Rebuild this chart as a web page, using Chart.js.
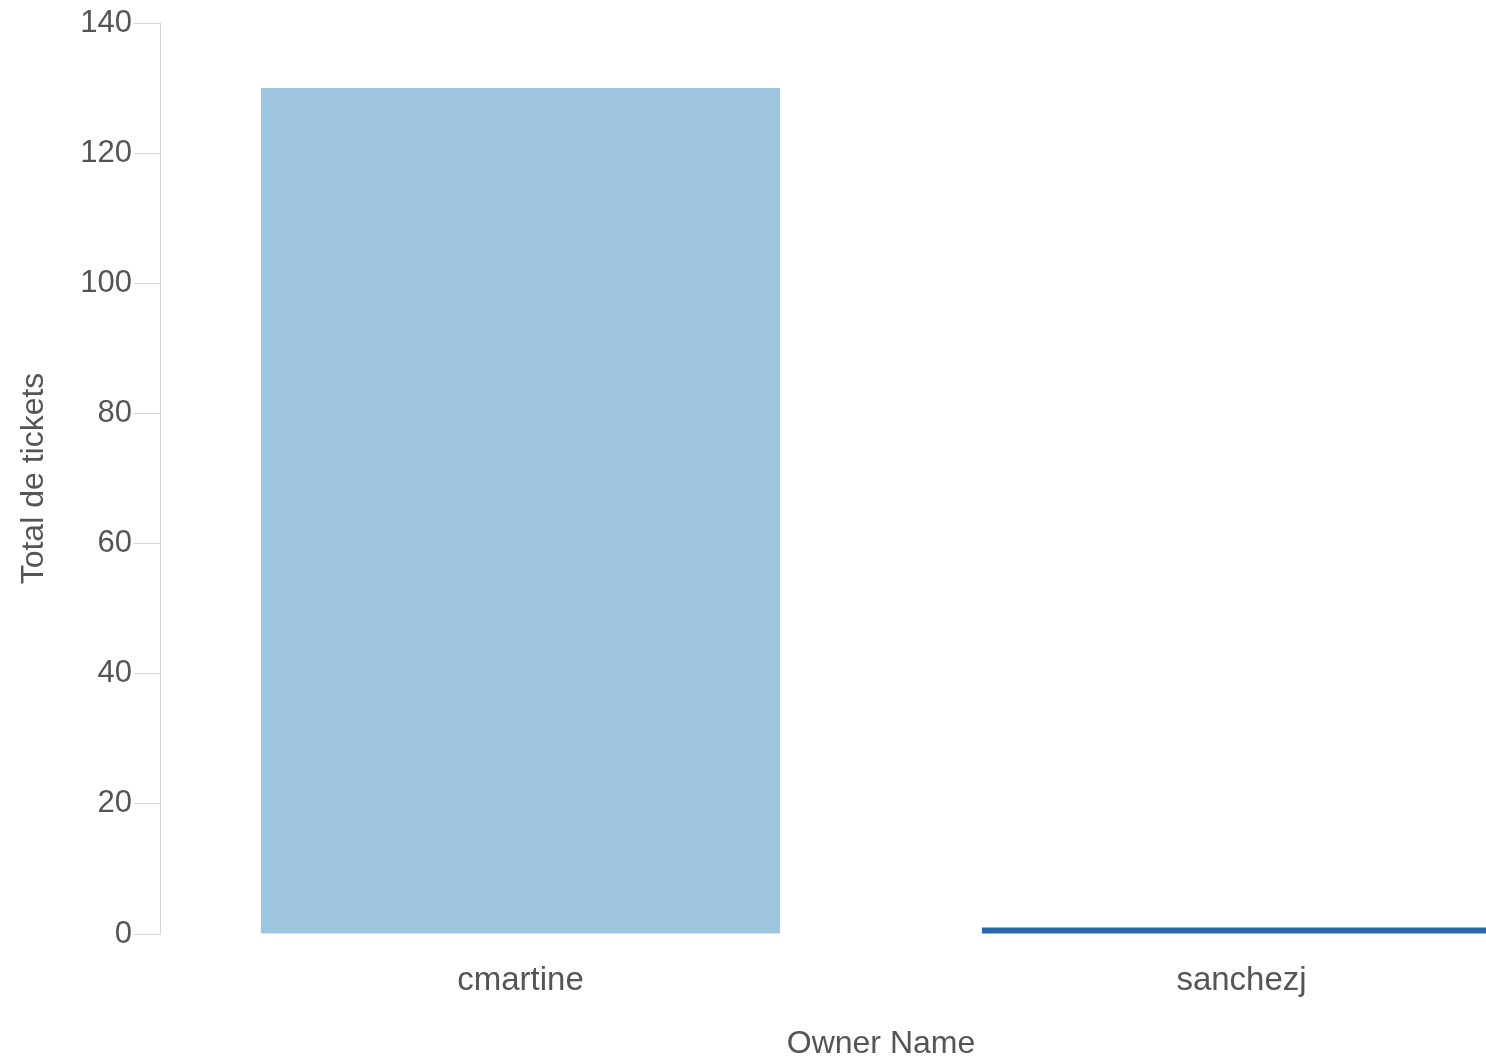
<!DOCTYPE html>
<html>
<head>
<meta charset="utf-8">
<script src="https://cdn.jsdelivr.net/npm/chart.js@4/dist/chart.umd.min.js"></script>
<style>
  html, body { margin: 0; padding: 0; background: #fff; overflow: hidden; }
  #wrap { position: relative; width: 1602px; height: 1056px; }
</style>
</head>
<body>
<div id="wrap"><canvas id="chart"></canvas></div>
<script>
// Tickets per owner
const owners = ['cmartine', 'sanchezj'];
const ticketTotals = [130, 1];
const barColors = ['#9ec5df', '#2868a8'];
const yTicks = [0, 20, 40, 60, 80, 100, 120, 140];

const textColor = '#555';
const axisColor = '#d4d4d4';
const fontFamily = '"Liberation Sans", Arial, Helvetica, sans-serif';

new Chart(document.getElementById('chart'), {
  type: 'bar',
  data: {
    labels: owners,
    datasets: [{
      label: 'Total de tickets',
      data: ticketTotals,
      backgroundColor: barColors,
      borderWidth: 0,
      categoryPercentage: 0.8,
      barPercentage: 0.9
    }]
  },
  options: {
    responsive: true,
    maintainAspectRatio: false,
    animation: false,
    layout: { padding: { top: 23, right: 0, bottom: 0, left: 0 } },
    plugins: {
      legend: { display: false },
      tooltip: { enabled: false }
    },
    scales: {
      x: {
        type: 'category',
        grid: { display: false, drawTicks: false },
        border: { display: false },
        ticks: {
          color: textColor,
          font: { family: fontFamily, size: 33 },
          padding: 27,
          maxRotation: 0
        },
        title: {
          display: true,
          text: 'Owner Name',
          color: textColor,
          font: { family: fontFamily, size: 32, lineHeight: 0.72 },
          padding: { top: 0, bottom: 0 }
        },
        afterFit(scale) { scale.height = 122; }
      },
      y: {
        min: 0,
        max: 140,
        afterBuildTicks(scale) { scale.ticks = yTicks.map(v => ({ value: v })); },
        grid: {
          drawOnChartArea: false,
          color: axisColor,
          tickLength: 26,
          lineWidth: 1
        },
        border: { display: true, color: axisColor, width: 1 },
        ticks: {
          color: textColor,
          font: { family: fontFamily, size: 31 },
          padding: 2
        },
        title: {
          display: true,
          text: 'Total de tickets',
          color: textColor,
          font: { family: fontFamily, size: 32 },
          padding: { top: 15, bottom: 0 }
        },
        afterFit(scale) { scale.width = 160; }
      }
    }
  }
});
</script>
</body>
</html>
